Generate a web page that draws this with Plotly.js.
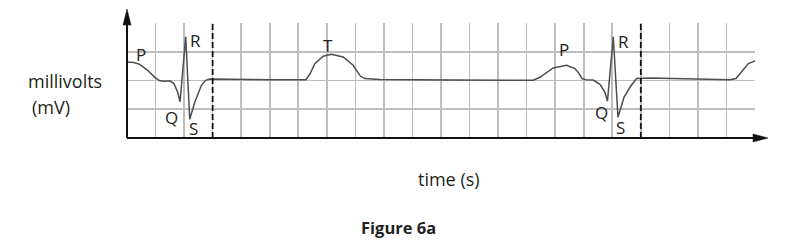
<!DOCTYPE html>
<html>
<head>
<meta charset="utf-8">
<script src="https://cdn.plot.ly/plotly-3.0.1.min.js"></script>
<style>html,body{margin:0;padding:0;background:#fff;}#chart{width:792px;height:241px;}</style>
</head>
<body>
<div id="chart"></div>
<script>
// ECG trace in grid units (x: 22 columns, y: 4 rows)
var timeUnits = [0,0.235,0.445,0.726,0.971,1.146,1.322,1.497,1.637,1.777,1.858,2.057,2.198,2.373,2.608,2.758,2.899,3.6,5.002,6.264,6.404,6.579,6.87,7.164,7.571,7.921,8.181,8.332,8.857,11.311,14.23,14.465,14.931,15.401,15.692,15.832,15.937,16.078,16.334,16.569,16.744,16.832,17.035,17.2,17.41,17.621,17.855,18.321,19.372,20.424,21.125,21.336,21.591,21.767,22.0];
var voltUnits = [2.643,2.623,2.563,2.355,2.111,1.99,1.972,1.99,1.903,1.59,1.259,3.52,0.65,1.242,1.833,2.007,2.049,2.035,2.024,2.024,2.216,2.588,2.842,2.911,2.817,2.529,2.146,2.066,2.031,2.014,2.007,2.111,2.435,2.529,2.414,2.25,2.066,2.024,2.014,1.868,1.59,1.277,3.52,0.72,1.416,1.774,2.066,2.087,2.059,2.042,2.024,2.066,2.355,2.588,2.678];
// wave labels
var waveLabels = ['P','Q','R','S','T','P','Q','R','S'];
var waveLabelX = [0.505,1.556,2.39,2.338,7.035,15.305,16.621,17.41,17.305];
var waveLabelY = [2.911,0.7,3.398,0.337,3.224,3.085,0.9,3.363,0.372];
// dashed beat markers
var beatMarkers = [3,18];
var yLabel1 = 'millivolts';
var yLabel2 = '(mV)';
var xLabel = 'time (s)';
var figCaption = 'Figure 6a';

var FONT = 'Open Sans, Noto Sans, sans-serif';
var L = 127, R = 37, T = 23, B = 103;
var W = 792 - L - R, H = 241 - T - B;
function px2x(p){ return (p - L) / W; }
function py2y(p){ return (241 - B - p) / H; }

var annotations = waveLabels.map(function(t, i){
  return {text: t, x: waveLabelX[i], y: waveLabelY[i], xref:'x', yref:'y', showarrow:false,
          xanchor:'center', yanchor:'middle', font:{family:FONT, size:17, color:'#231f20'}};
});
annotations.push({text: yLabel1, x: px2x(26), y: py2y(81), xref:'paper', yref:'paper', showarrow:false, xanchor:'left', yanchor:'middle', font:{family:FONT, size:18, color:'#231f20'}});
annotations.push({text: yLabel2, x: px2x(30), y: py2y(107), xref:'paper', yref:'paper', showarrow:false, xanchor:'left', yanchor:'middle', font:{family:FONT, size:18, color:'#231f20'}});
annotations.push({text: xLabel, x: px2x(449), y: py2y(179), xref:'paper', yref:'paper', showarrow:false, xanchor:'center', yanchor:'middle', font:{family:FONT, size:18, color:'#231f20'}});
annotations.push({text: '<b>' + figCaption + '</b>', x: px2x(398), y: py2y(227), xref:'paper', yref:'paper', showarrow:false, xanchor:'center', yanchor:'middle', font:{family:FONT, size:16.5, color:'#231f20'}});

var shapes = beatMarkers.map(function(b){
  return {type:'line', xref:'x', yref:'y', x0:b, x1:b, y0:0, y1:4, line:{color:'#111', width:1.8, dash:'6px,3px'}, layer:'above'};
});
// axis lines with arrows
shapes.push({type:'line', xref:'paper', yref:'paper', x0:0, x1:0, y0:0, y1:py2y(22), line:{color:'#111', width:2}});
shapes.push({type:'line', xref:'paper', yref:'paper', x0:0, x1:px2x(756), y0:0, y1:0, line:{color:'#111', width:2}});
shapes.push({type:'path', xref:'paper', yref:'paper',
  path:'M'+px2x(L)+','+py2y(9)+' L'+px2x(L-4)+','+py2y(25)+' L'+px2x(L+4)+','+py2y(25)+' Z',
  fillcolor:'#111', line:{color:'#111', width:0.5}});
shapes.push({type:'path', xref:'paper', yref:'paper',
  path:'M'+px2x(768)+','+py2y(138)+' L'+px2x(753)+','+py2y(134)+' L'+px2x(753)+','+py2y(142)+' Z',
  fillcolor:'#111', line:{color:'#111', width:0.5}});

var trace = {x: timeUnits, y: voltUnits, type:'scatter', mode:'lines',
  line:{color:'#4d4d4f', width:1.5}, hoverinfo:'skip', cliponaxis:false};

var layout = {
  width:792, height:241,
  margin:{l:L, r:R, t:T, b:B, pad:0},
  paper_bgcolor:'#fff', plot_bgcolor:'#fff',
  showlegend:false,
  xaxis:{range:[0,22], showgrid:true, dtick:1, tick0:0, gridcolor:'#bcbec0', gridwidth:1.6,
    zeroline:false, showline:false, showticklabels:false, ticks:'', fixedrange:true},
  yaxis:{range:[0,4], showgrid:true, dtick:1, tick0:0, gridcolor:'#bcbec0', gridwidth:1.6,
    zeroline:false, showline:false, showticklabels:false, ticks:'', fixedrange:true},
  annotations: annotations,
  shapes: shapes
};
Plotly.newPlot('chart', [trace], layout, {staticPlot:true});
</script>
</body>
</html>
